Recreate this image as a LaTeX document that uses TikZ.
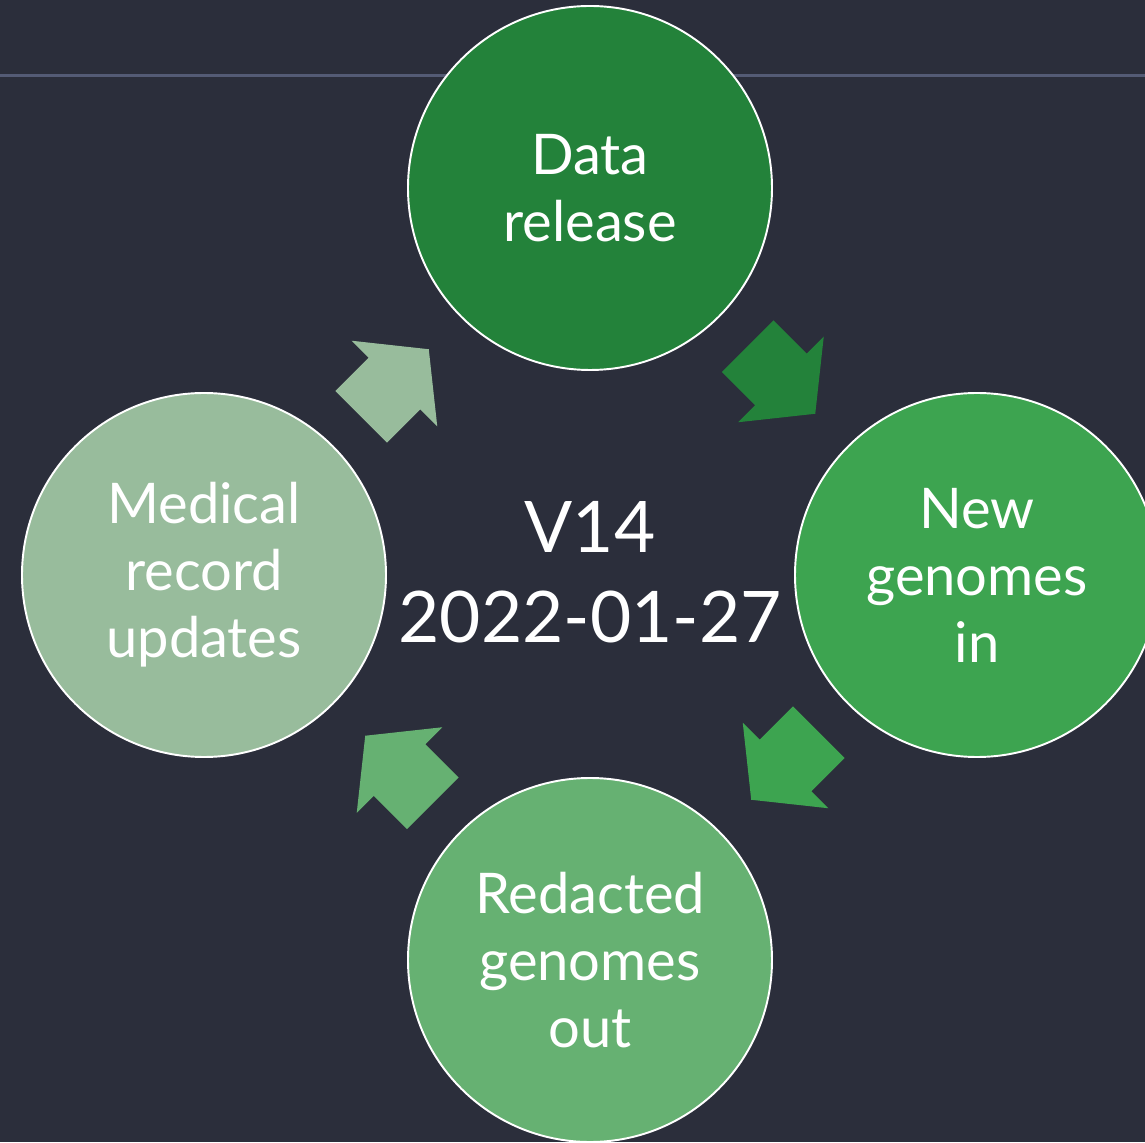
\documentclass[tikz,border=0pt]{standalone}
\usepackage{fontspec}
\setmainfont{Lato}
\usetikzlibrary{positioning}

\definecolor{slide}{HTML}{2B2E3B}
\definecolor{rulegrey}{HTML}{545B75}
\definecolor{greenA}{HTML}{23823A}
\definecolor{greenB}{HTML}{3DA450}
\definecolor{greenC}{HTML}{66B172}
\definecolor{greenD}{HTML}{98BC9C}

\begin{document}
\begin{tikzpicture}[
    stage/.style={circle, draw=white, line width=1.1pt, minimum size=7.28cm, inner sep=0pt, text=white, align=center, font=\fontsize{31.9}{38.1}\selectfont},
    version/.style={text=white, align=center, font=\fontsize{40.5}{51.2}\selectfont},
    rule/.style={rulegrey, line width=1.5pt}
]

% Slide background and header rule
\useasboundingbox (-11.8,-11.34) rectangle (11.1,11.5);
\fill[slide] (-11.8,-11.34) rectangle (11.1,11.5);
\draw[rule] (-11.8,9.99) -- (11.1,9.99);

% Release label in the middle
\node[version] (v14) at (0,0.05) {V14\\2022-01-27};

% Cycle stages
\node[stage, fill=greenA] (release) at (0,7.74) {Data\\release};
\node[stage, fill=greenB] (newin) at (7.74,0) {New\\genomes\\in};
\node[stage, fill=greenC] (redacted) at (0,-7.70) {Redacted\\genomes\\out};
\node[stage, fill=greenD] (records) at (-7.72,0) {Medical\\record\\updates};

% Block arrows between the stages
\foreach \x/\y/\ang/\col in {3.83/3.90/-45/greenA, 3.90/-3.82/-135/greenB, -3.82/-3.89/135/greenC, -3.90/3.84/45/greenD}
  \fill[\col, shift={(\x,\y)}, rotate=\ang] (-0.955,0.73) -- (-0.015,0.73) -- (-0.015,1.21) -- (0.955,0) -- (-0.015,-1.21) -- (-0.015,-0.73) -- (-0.955,-0.73) -- cycle;

\end{tikzpicture}
\end{document}
